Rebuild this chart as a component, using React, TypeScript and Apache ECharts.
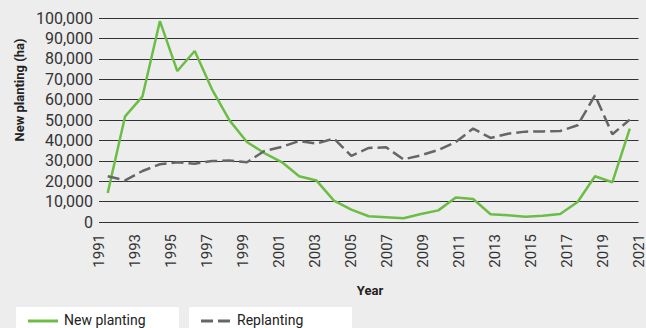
import React, { useEffect, useRef } from "react";
import * as echarts from "echarts";

const years: string[] = [
  "1991", "1992", "1993", "1994", "1995", "1996", "1997", "1998", "1999", "2000",
  "2001", "2002", "2003", "2004", "2005", "2006", "2007", "2008", "2009", "2010",
  "2011", "2012", "2013", "2014", "2015", "2016", "2017", "2018", "2019", "2020", "2021",
];

const newPlanting: number[] = [
  14200, 51800, 61600, 98500, 74000, 83800, 64900, 49800, 39200, 33800,
  29400, 22400, 20300, 10500, 6100, 2800, 2300, 1800, 3900, 5700,
  12000, 11300, 3800, 3300, 2600, 3100, 3900, 9800, 22400, 19500, 45800,
];

const replanting: number[] = [
  22400, 20400, 25000, 28300, 29300, 28600, 29900, 30100, 29300, 34800,
  36800, 39700, 38400, 40900, 32400, 36300, 36600, 30700, 32700, 35300,
  39200, 45800, 41200, 43300, 44300, 44400, 44600, 47400, 62100, 43000, 50200,
];

const seriesNames: string[] = ["New planting", "Replanting"];

const FONT = "Roboto, 'Noto Sans', sans-serif";
const GREEN = "#6cbd45";
const GREY = "#666666";
const DASH = [12, 5];

export default function App() {
  const ref = useRef<HTMLDivElement>(null);

  useEffect(() => {
    if (!ref.current) return;
    const chart = echarts.init(ref.current, null, { renderer: "svg" });

    // Legend entries: a white box each, with a line sample and the series name
    const legendItems = seriesNames.map((name, i) => {
      const boxX = 16 + i * 173;
      const dashed = i === 1;
      return {
        type: "group",
        children: [
          {
            type: "rect",
            shape: { x: boxX, y: 307, width: 163, height: 30 },
            style: { fill: "#ffffff" },
          },
          {
            type: "line",
            shape: { x1: boxX + 12, y1: 321, x2: boxX + 42, y2: 321 },
            style: {
              stroke: dashed ? GREY : GREEN,
              lineWidth: 3,
              lineDash: dashed ? DASH : null,
            },
          },
          {
            type: "text",
            x: boxX + 48,
            y: 320,
            style: {
              text: name,
              font: `14px ${FONT}`,
              fill: "#222",
              align: "left",
              verticalAlign: "middle",
            },
          },
        ],
      };
    });

    chart.setOption({
      animation: false,
      backgroundColor: "#ededed",
      textStyle: { fontFamily: FONT },
      grid: { left: 99, right: 7, top: 18, bottom: 106, containLabel: false },
      xAxis: [
        {
          type: "category",
          data: years,
          boundaryGap: true,
          axisLine: { show: false },
          axisTick: { show: false },
          axisLabel: { show: false },
        },
        {
          type: "category",
          data: years,
          boundaryGap: false,
          position: "bottom",
          axisLine: { show: false },
          axisTick: { show: false },
          axisLabel: {
            interval: 1,
            rotate: 90,
            margin: 12,
            fontSize: 15,
            color: "#333",
            fontFamily: FONT,
          },
        },
      ],
      yAxis: {
        type: "value",
        min: 0,
        max: 100000,
        interval: 10000,
        axisLine: { show: false },
        axisTick: { show: false },
        axisLabel: {
          margin: 6,
          fontSize: 16,
          color: "#333",
          fontFamily: FONT,
          formatter: (v: number) => v.toLocaleString("en-US"),
        },
        splitLine: { lineStyle: { color: "#333333", width: 1 } },
      },
      graphic: [
        ...legendItems,
        {
          type: "text",
          x: 19,
          y: 90,
          rotation: Math.PI / 2,
          style: {
            text: "New planting (ha)",
            font: `bold 13px ${FONT}`,
            fill: "#222",
            align: "center",
            verticalAlign: "middle",
          },
        },
        {
          type: "text",
          x: 370,
          y: 290,
          style: {
            text: "Year",
            font: `bold 13px ${FONT}`,
            fill: "#222",
            align: "center",
            verticalAlign: "middle",
          },
        },
      ],
      series: [
        {
          name: seriesNames[0],
          type: "line",
          xAxisIndex: 0,
          data: newPlanting,
          symbol: "none",
          lineStyle: { color: GREEN, width: 2.5 },
          itemStyle: { color: GREEN },
        },
        {
          name: seriesNames[1],
          type: "line",
          xAxisIndex: 0,
          data: replanting,
          symbol: "none",
          lineStyle: { color: GREY, width: 2.5, type: DASH },
          itemStyle: { color: GREY },
        },
      ],
    });
    return () => chart.dispose();
  }, []);

  return <div ref={ref} style={{ width: 646, height: 328, position: "fixed", left: 0, top: 0 }} />;
}
